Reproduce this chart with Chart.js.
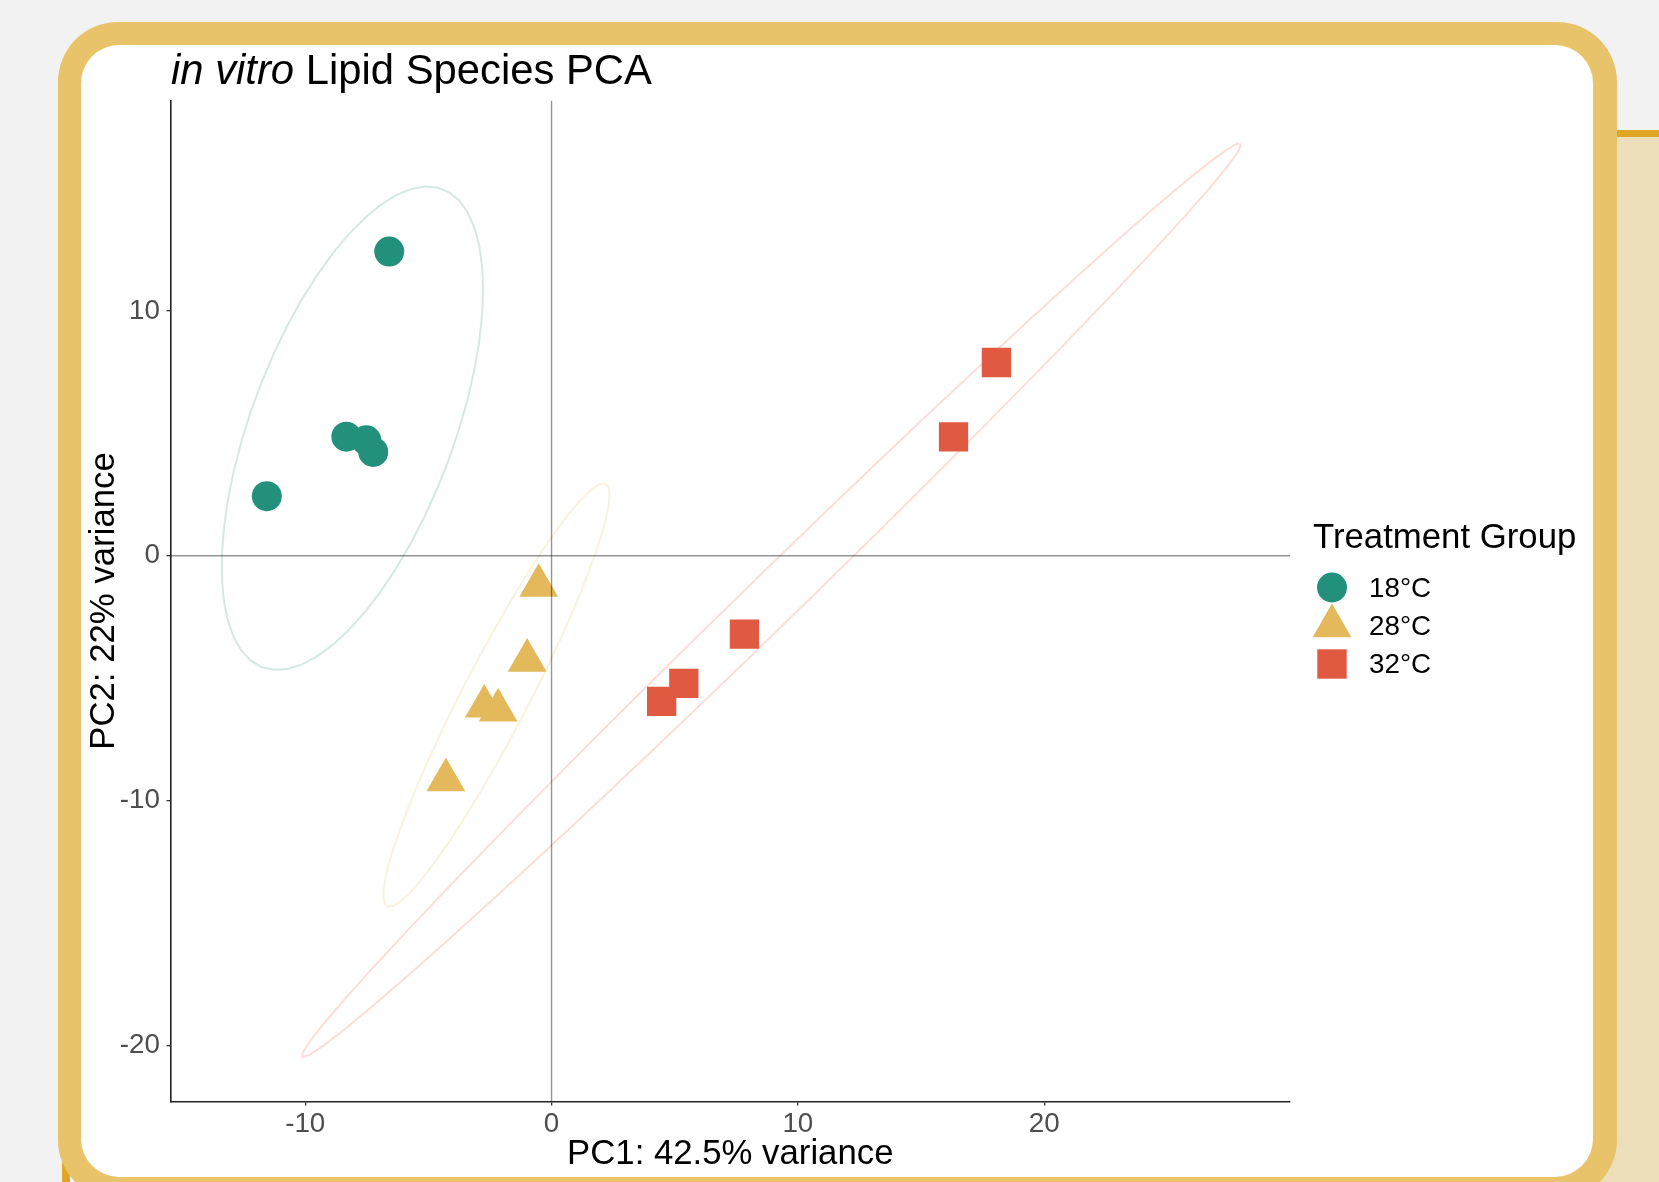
<!DOCTYPE html>
<html><head><meta charset="utf-8">
<script src="https://cdn.jsdelivr.net/npm/chart.js@4/dist/chart.umd.min.js"></script>
<style>
html,body{margin:0;padding:0;width:1659px;height:1182px;overflow:hidden;background:#F2F2F2;font-family:"Liberation Sans",Arial,Helvetica,sans-serif;}
.abs{position:absolute;}
#rightPanel{left:1560px;top:130px;width:99px;height:1052px;background:#EDDFB9;border-top:7px solid #DEA624;box-sizing:border-box;}
#leftStrip{left:62px;top:1130px;width:8px;height:52px;background:#DEA624;}
#gold{left:57.5px;top:21.5px;width:1559.5px;height:1178px;background:#E8C36A;border-radius:60px;}
#white{left:81px;top:45px;width:1512px;height:1132px;background:#fff;border-radius:38px;}
#chartWrap{left:0;top:0;width:1659px;height:1182px;}
#title{left:171px;top:49px;font-size:41.8px;line-height:41.8px;white-space:nowrap;color:#000;}
#legTitle{left:1313px;top:519px;font-size:34.75px;line-height:34.75px;white-space:nowrap;color:#000;}
.legLab{left:1369px;font-size:27.8px;line-height:27.8px;white-space:nowrap;color:#000;}
</style></head>
<body>
<div id="rightPanel" class="abs"></div>
<div id="leftStrip" class="abs"></div>
<div id="gold" class="abs"></div>
<div id="white" class="abs"></div>
<div id="chartWrap" class="abs"><canvas id="c" width="1659" height="1182"></canvas></div>
<div id="title" class="abs"><i>in vitro</i> Lipid Species PCA</div>
<div id="legTitle" class="abs">Treatment Group</div>
<svg class="abs" style="left:1300px;top:560px;" width="70" height="130" id="legSvg"></svg>
<div id="legLabels"></div>
<script>
// ---- data ----
const groups = ['18°C', '28°C', '32°C'];
const pc1_18 = [-6.59, -8.33, -7.52, -7.24, -11.56];
const pc2_18 = [12.42, 4.86, 4.71, 4.24, 2.43];
const pc1_28 = [-0.52, -0.99, -2.73, -2.17, -4.29];
const pc2_28 = [-1.22, -4.28, -6.15, -6.31, -9.16];
const pc1_32 = [4.47, 5.37, 7.83, 16.32, 18.06];
const pc2_32 = [-5.95, -5.21, -3.20, 4.85, 7.89];
const xTickValues = [-10, 0, 10, 20];
const yTickValues = [-20, -10, 0, 10];
const xLimits = [-15.47, 29.98];
const yLimits = [-22.29, 18.59];
const xTitle = 'PC1: 42.5% variance';
const yTitle = 'PC2: 22% variance';

// ---- styles ----
const colors = ['#23907C', '#E4B95B', '#E05A41'];
const ellColors = ['rgba(35,144,124,0.2)', 'rgba(228,185,91,0.2)', 'rgba(224,90,65,0.2)'];
const shapes = ['circle', 'triangle', 'rect'];
const radii = [15, 22.4, 20.7];

function toPts(xs, ys) { return xs.map((x, i) => ({x: x, y: ys[i]})); }
function avg(a) { return a.reduce((s, t) => s + t, 0) / a.length; }

// robust t covariance (as MASS::cov.trob, used by ggplot2 stat_ellipse type "t")
function covTrob(xs, ys) {
  const n = xs.length, p = 2, nu = 5, maxit = 25, tol = 0.01;
  let loc = [avg(xs), avg(ys)];
  let w = new Array(n).fill(1);
  let X = [];
  for (let it = 0; it < maxit; it++) {
    const w0 = w.slice();
    X = xs.map((x, i) => [x - loc[0], ys[i] - loc[1]]);
    const sw = w.reduce((s, t) => s + t, 0);
    let a = 0, b = 0, c = 0;
    for (let i = 0; i < n; i++) {
      const f = w[i] / sw;
      a += f * X[i][0] * X[i][0]; b += f * X[i][0] * X[i][1]; c += f * X[i][1] * X[i][1];
    }
    const det = a * c - b * b;
    w = X.map(([u, v]) => (nu + p) / (nu + (c * u * u - 2 * b * u * v + a * v * v) / det));
    const sw2 = w.reduce((s, t) => s + t, 0);
    loc = [w.reduce((s, t, i) => s + t * xs[i], 0) / sw2, w.reduce((s, t, i) => s + t * ys[i], 0) / sw2];
    if (w.every((t, i) => Math.abs(t - w0[i]) < tol)) break;
  }
  let a = 0, b = 0, c = 0;
  for (let i = 0; i < n; i++) {
    a += w[i] * X[i][0] * X[i][0]; b += w[i] * X[i][0] * X[i][1]; c += w[i] * X[i][1] * X[i][1];
  }
  return {center: loc, a: a / n, b: b / n, c: c / n};
}
function ellipsePoints(xs, ys) {
  const level = 0.95, segments = 51;
  const {center, a, b, c} = covTrob(xs, ys);
  const dfn = 2, dfd = xs.length - 1;
  const q = (dfd / 2) * (Math.pow(1 - level, -2 / dfd) - 1);
  const radius = Math.sqrt(dfn * q);
  const r11 = Math.sqrt(a), r12 = b / r11, r22 = Math.sqrt(c - r12 * r12);
  const out = [];
  for (let k = 0; k <= segments; k++) {
    const t = k * 2 * Math.PI / segments;
    const u = Math.cos(t), v = Math.sin(t);
    out.push({x: center[0] + radius * u * r11, y: center[1] + radius * (u * r12 + v * r22)});
  }
  return out;
}

const seriesX = [pc1_18, pc1_28, pc1_32];
const seriesY = [pc2_18, pc2_28, pc2_32];

const datasets = [];
// reference lines (on top)
datasets.push({label: 'h0', data: [{x: xLimits[0], y: 0}, {x: xLimits[1], y: 0}], showLine: true, pointRadius: 0,
  borderColor: 'rgba(0,0,0,0.42)', borderWidth: 1.4, order: 0});
datasets.push({label: 'v0', data: [{x: 0, y: yLimits[0]}, {x: 0, y: yLimits[1]}], showLine: true, pointRadius: 0,
  borderColor: 'rgba(0,0,0,0.42)', borderWidth: 1.4, order: 0});
// points
for (let g = 0; g < 3; g++) {
  datasets.push({label: groups[g], data: toPts(seriesX[g], seriesY[g]), pointStyle: shapes[g], pointRadius: radii[g],
    pointHoverRadius: radii[g], backgroundColor: colors[g], borderColor: colors[g], borderWidth: 0, order: 1});
}
// ellipses (behind)
for (let g = 0; g < 3; g++) {
  datasets.push({label: groups[g] + ' ellipse', data: ellipsePoints(seriesX[g], seriesY[g]), showLine: true, pointRadius: 0,
    borderColor: ellColors[g], borderWidth: 2, tension: 0, fill: false, order: 2});
}

const tickFont = {family: '"Liberation Sans", Arial, sans-serif', size: 27.8};
const titleFont = {family: '"Liberation Sans", Arial, sans-serif', size: 34.75};

new Chart(document.getElementById('c'), {
  type: 'scatter',
  data: {datasets: datasets},
  options: {
    responsive: false, animation: false, devicePixelRatio: 1,
    layout: {padding: {left: 60, top: 100.5, right: 369, bottom: 0}},
    plugins: {legend: {display: false}, tooltip: {enabled: false}},
    scales: {
      x: {
        type: 'linear', min: xLimits[0], max: xLimits[1],
        afterFit: s => { s.height = 80.5; },
        afterBuildTicks: s => { s.ticks = xTickValues.map(v => ({value: v})); },
        grid: {drawOnChartArea: false, drawTicks: true, tickLength: 4, color: '#333', lineWidth: 1.3},
        border: {display: true, color: '#222', width: 1.6},
        ticks: {font: tickFont, color: '#4D4D4D', padding: 2, maxRotation: 0},
        title: {display: true, text: xTitle, font: titleFont, color: '#000', padding: {top: 0, bottom: 6.5}}
      },
      y: {
        type: 'linear', min: yLimits[0], max: yLimits[1],
        afterFit: s => { s.width = 110.5; },
        afterBuildTicks: s => { s.ticks = yTickValues.map(v => ({value: v})); },
        grid: {drawOnChartArea: false, drawTicks: true, tickLength: 4, color: '#333', lineWidth: 1.3},
        border: {display: true, color: '#222', width: 1.6},
        ticks: {font: tickFont, color: '#4D4D4D', padding: 6.5},
        title: {display: true, text: yTitle, font: titleFont, color: '#000', padding: {top: 23.5, bottom: 0}}
      }
    }
  }
});

// ---- legend (HTML/SVG) ----
const legCenters = [27.5, 66, 104];
const svg = document.getElementById('legSvg');
const ns = 'http://www.w3.org/2000/svg';
let el = document.createElementNS(ns, 'circle');
el.setAttribute('cx', 32); el.setAttribute('cy', legCenters[0]); el.setAttribute('r', 15); el.setAttribute('fill', colors[0]);
svg.appendChild(el);
el = document.createElementNS(ns, 'polygon');
const cy = legCenters[1], rr = 22.4;
el.setAttribute('points', `32,${cy - rr} ${32 + 0.866 * rr},${cy + rr / 2} ${32 - 0.866 * rr},${cy + rr / 2}`);
el.setAttribute('fill', colors[1]); svg.appendChild(el);
el = document.createElementNS(ns, 'rect');
el.setAttribute('x', 32 - 14.7); el.setAttribute('y', legCenters[2] - 14.7); el.setAttribute('width', 29.4); el.setAttribute('height', 29.4);
el.setAttribute('fill', colors[2]); svg.appendChild(el);
const labTops = [574, 612, 650];
const ll = document.getElementById('legLabels');
groups.forEach((g, i) => {
  const d = document.createElement('div');
  d.className = 'abs legLab'; d.style.top = labTops[i] + 'px'; d.textContent = g;
  ll.appendChild(d);
});
</script>
</body></html>
